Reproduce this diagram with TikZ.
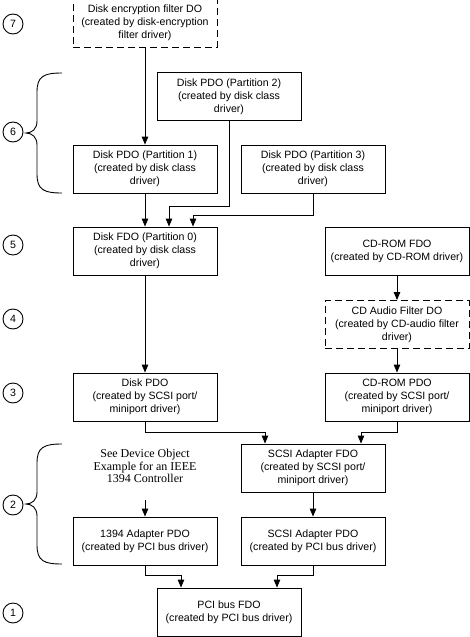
\documentclass[tikz,border=0pt]{standalone}
\usepackage{fontspec}
\setmainfont{Liberation Sans}
\newfontfamily\notefont{Liberation Serif}
\usetikzlibrary{arrows.meta}

\begin{document}
\begin{tikzpicture}[x = 1pt, y = -1pt,
    font = \fontsize{10.6}{13}\selectfont,
    dobox/.style = {draw, line width = 0.9pt, minimum width = 144pt, minimum height = 48pt, align = center, inner sep = 0pt},
    filterbox/.style = {dobox, dash pattern = on 7pt off 4pt},
    level/.style = {draw, circle, line width = 0.9pt, minimum size = 20pt, inner sep = 0pt},
    link/.style = {line width = 0.9pt, -{Triangle[length = 8pt, width = 6.5pt]}},
    bracket/.style = {line width = 0.9pt}]
                    \useasboundingbox (0, 0) rectangle (470, 637);

                    \node[filterbox] (encrypt) at (145, 23) {Disk encryption filter DO\\(created by disk-encryption\\filter driver)};
                    \node[dobox] (part2) at (229, 96.5) {Disk PDO (Partition 2)\\(created by disk class\\driver)};
                    \node[dobox] (part1) at (145, 169) {Disk PDO (Partition 1)\\(created by disk class\\driver)};
                    \node[dobox] (part3) at (313, 169) {Disk PDO (Partition 3)\\(created by disk class\\driver)};
                    \node[dobox] (diskfdo) at (145, 251) {Disk FDO (Partition 0)\\(created by disk class\\driver)};
                    \node[dobox] (cdfdo) at (397, 251) {CD-ROM FDO\\(created by CD-ROM driver)};
                    \node[filterbox] (cdaudio) at (397, 324.5) {CD Audio Filter DO\\(created by CD-audio filter\\driver)};
                    \node[dobox] (diskpdo) at (145, 397) {Disk PDO\\(created by SCSI port/\\miniport driver)};
                    \node[dobox] (cdpdo) at (397, 397) {CD-ROM PDO\\(created by SCSI port/\\miniport driver)};
                    \node[dobox] (scsifdo) at (313, 468) {SCSI Adapter FDO\\(created by SCSI port/\\miniport driver)};
                    \node[align = center, font = \notefont\fontsize{12}{12.5}\selectfont] (note) at (145, 466) {See Device Object\\Example for an IEEE\\1394 Controller};
                    \coordinate (notefoot) at (145, 500);
                    \node[dobox] (pdo1394) at (145, 541) {1394 Adapter PDO\\(created by PCI bus driver)};
                    \node[dobox] (scsipdo) at (313, 541) {SCSI Adapter PDO\\(created by PCI bus driver)};
                    \node[dobox] (pcifdo) at (229, 612) {PCI bus FDO\\(created by PCI bus driver)};

                    \foreach \num/\ypos in {7/24, 6/132, 5/245, 4/319, 3/393, 2/505, 1/613}
                        \node[level] (level\num) at (13, \ypos) {\num};

                    \foreach \ya/\yb in {73/193, 444/564} {
                        \pgfmathsetmacro\ym{(\ya + \yb) / 2}
                        \draw[bracket] (62, \ya) .. controls (44, \ya) and (37, \ya + 3) .. (37, \ya + 19)
                            -- (37, \ym - 12) .. controls (37, \ym - 4) and (32, \ym) .. (26, \ym)
                            .. controls (32, \ym) and (37, \ym + 4) .. (37, \ym + 12)
                            -- (37, \yb - 19) .. controls (37, \yb - 3) and (44, \yb) .. (62, \yb);
                    }

                    \draw[link] (encrypt) -- (part1);
                    \draw[link] (part1) -- (diskfdo);
                    \draw[link] (part2.south) |- ([xshift = 24pt, yshift = 20pt]diskfdo.north) -- ([xshift = 24pt]diskfdo.north);
                    \draw[link] (part3.south) |- ([xshift = 48pt, yshift = 11pt]diskfdo.north) -- ([xshift = 48pt]diskfdo.north);
                    \draw[link] (diskfdo) -- (diskpdo);
                    \draw[link] (cdfdo) -- (cdaudio);
                    \draw[link] (cdaudio) -- (cdpdo);
                    \draw[link] (diskpdo.south) |- ([xshift = -48pt, yshift = 11pt]scsifdo.north) -- ([xshift = -48pt]scsifdo.north);
                    \draw[link] (cdpdo.south) |- ([xshift = 48pt, yshift = 11pt]scsifdo.north) -- ([xshift = 48pt]scsifdo.north);
                    \draw[link] (scsifdo) -- (scsipdo);
                    \draw[link] (notefoot) -- (pdo1394);
                    \draw[link] (pdo1394.south) |- ([xshift = -48pt, yshift = 12pt]pcifdo.north) -- ([xshift = -48pt]pcifdo.north);
                    \draw[link] (scsipdo.south) |- ([xshift = 48pt, yshift = 12pt]pcifdo.north) -- ([xshift = 48pt]pcifdo.north);
\end{tikzpicture}
\end{document}
